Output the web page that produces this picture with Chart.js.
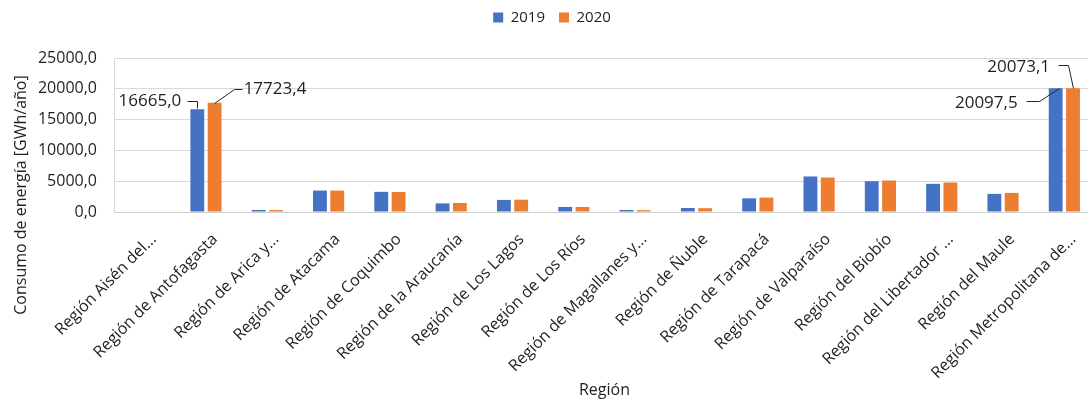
<!DOCTYPE html>
<html><head><meta charset="utf-8">
<script src="https://cdn.jsdelivr.net/npm/chart.js@4/dist/chart.umd.min.js"></script>
<style>
html,body{margin:0;padding:0;overflow:hidden;background:#fff;width:1088px;height:400px}
#wrap{position:absolute;left:0;top:0;width:1104px;height:400px}
</style>
</head><body><div id="wrap"><canvas id="c"></canvas></div>
<script>
const categories = [
  'Región Aisén del...', 'Región de Antofagasta', 'Región de Arica y...', 'Región de Atacama',
  'Región de Coquimbo', 'Región de la Araucanía', 'Región de Los Lagos', 'Región de Los Ríos',
  'Región de Magallanes y...', 'Región de Ñuble', 'Región de Tarapacá', 'Región de Valparaíso',
  'Región del Biobío', 'Región del Libertador ...', 'Región del Maule', 'Región Metropolitana de...'
];
const seriesNames = ['2019', '2020'];
const values2019 = [0, 16665.0, 330, 3480, 3270, 1400, 1960, 820, 330, 650, 2220, 5770, 5000, 4570, 2940, 20097.5];
const values2020 = [0, 17723.4, 310, 3480, 3250, 1470, 2000, 820, 300, 620, 2340, 5600, 5110, 4790, 3100, 20073.1];
const yTickValues = [0, 5000, 10000, 15000, 20000, 25000];
const labelledPoints = [[0, 1], [1, 1], [0, 15], [1, 15]]; // [series, category]

const FONT = "'Open Sans', sans-serif";
const TXT = '#1f1f1f';
const fmt = v => v.toFixed(1).replace('.', ',');

// leader-line label layout (pixel offsets from bar top)
const noteStyle = [
  {tx: -16, ty: -8, align: 'right', path: [[-10, -8], [0, -8], [0, -1]]},
  {tx: 29, ty: -14, align: 'left', path: [[-1, 0], [19, -14], [27, -14]]},
  {tx: -38, ty: 15, align: 'right', path: [[-30, 13], [-17, 13], [3, 0]]},
  {tx: -23, ty: -21, align: 'right', path: [[-15, -23], [-5, -23], [0, 0]]}
];

const notesPlugin = {
  id: 'notes',
  afterDatasetsDraw(chart) {
    const ctx = chart.ctx;
    ctx.save();
    ctx.font = '17px ' + FONT;
    ctx.fillStyle = TXT;
    ctx.strokeStyle = '#262626';
    ctx.lineWidth = 1;
    ctx.textBaseline = 'middle';
    labelledPoints.forEach(([s, i], k) => {
      const el = chart.getDatasetMeta(s).data[i];
      const st = noteStyle[k];
      const v = chart.data.datasets[s].data[i];
      ctx.beginPath();
      st.path.forEach(([dx, dy], j) => {
        const px = Math.round(el.x + dx) + 0.5, py = Math.round(el.y + dy) + 0.5;
        if (j === 0) ctx.moveTo(px, py); else ctx.lineTo(px, py);
      });
      ctx.stroke();
      ctx.textAlign = st.align;
      ctx.fillText(fmt(v), el.x + st.tx, el.y + st.ty);
    });
    ctx.restore();
  }
};

const yTitlePlugin = {
  id: 'ytitle',
  afterDraw(chart) {
    const ctx = chart.ctx;
    ctx.save();
    ctx.font = '16px ' + FONT;
    ctx.fillStyle = TXT;
    ctx.translate(21, 195);
    ctx.rotate(-Math.PI / 2);
    ctx.textAlign = 'center';
    ctx.textBaseline = 'middle';
    ctx.fillText('Consumo de energía [GWh/año]', 0, 0);
    ctx.restore();
  }
};

const legendGapPlugin = {
  id: 'legendGap',
  beforeLayout(chart) {
    const lg = chart.legend;
    if (lg && !lg._gapPatched) {
      const orig = lg.fit;
      lg.fit = function () { orig.call(this); this.height += 23; };
      lg._gapPatched = true;
    }
  }
};

new Chart(document.getElementById('c'), {
  type: 'bar',
  data: {
    labels: categories,
    datasets: [
      {label: seriesNames[0], data: values2019, backgroundColor: '#4472C4'},
      {label: seriesNames[1], data: values2020, backgroundColor: '#ED7D31'}
    ]
  },
  options: {
    responsive: true,
    maintainAspectRatio: false,
    animation: false,
    layout: {padding: {left: 9, right: 9, top: -4, bottom: 0}},
    datasets: {bar: {categoryPercentage: 0.565, barPercentage: 0.8}},
    plugins: {
      legend: {
        position: 'top',
        labels: {font: {family: FONT, size: 15}, color: TXT, boxWidth: 10, boxHeight: 10, padding: 14}
      },
      tooltip: {enabled: false}
    },
    scales: {
      x: {
        grid: {display: false, drawTicks: false},
        border: {display: true, color: '#d0d0d0', width: 1},
        ticks: {
          autoSkip: false, minRotation: 45, maxRotation: 45, padding: 18, labelOffset: 9,
          font: {family: FONT, size: 16}, color: TXT
        },
        title: {display: true, text: 'Región', font: {family: FONT, size: 16}, color: TXT, padding: {top: 0, bottom: 0}},
        afterFit(axis) { axis.height = 188; }
      },
      y: {
        min: 0, max: 25000,
        afterBuildTicks(axis) { axis.ticks = yTickValues.map(v => ({value: v})); },
        grid: {color: '#d9d9d9', drawTicks: false},
        border: {display: true, color: '#d9d9d9'},
        ticks: {padding: 17, font: {family: FONT, size: 16}, color: TXT, callback: v => fmt(v)},
        afterFit(axis) { axis.width = 105; }
      }
    }
  },
  plugins: [notesPlugin, yTitlePlugin, legendGapPlugin]
});
</script>
</body></html>
